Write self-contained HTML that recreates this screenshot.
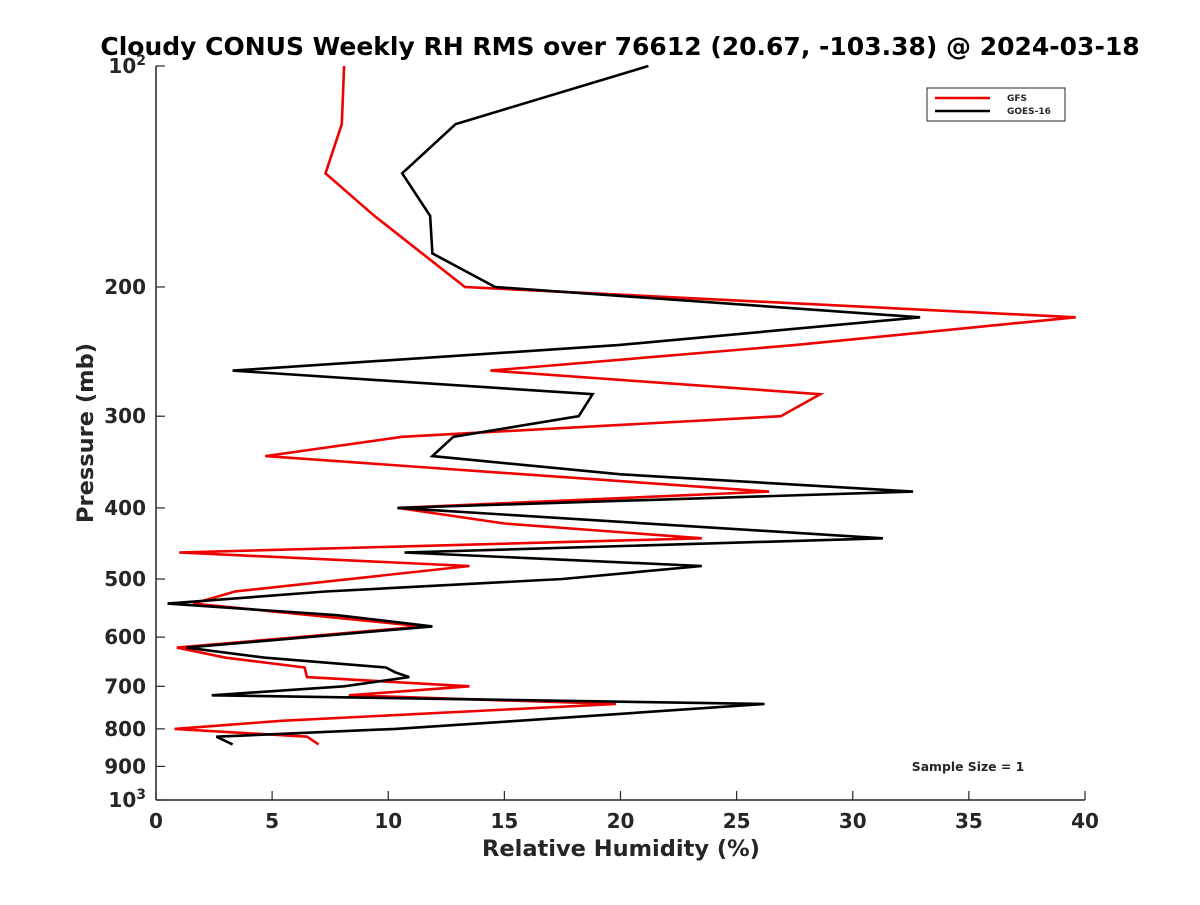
<!DOCTYPE html>
<html><head><meta charset="utf-8"><style>
body{margin:0;background:#fff;}
svg text{font-family:"DejaVu Sans","Liberation Sans",sans-serif;font-weight:bold;fill:#262626;}
</style></head><body>
<svg id="chart" width="1200" height="900">
<rect width="1200" height="900" fill="#fff"/>
<text x="620" y="55" font-size="25" text-anchor="middle" style="fill:#000">Cloudy CONUS Weekly RH RMS over 76612 (20.67, -103.38) @ 2024-03-18</text>
<g id="axes"></g>
<g id="series"></g>
<g>
<rect x="927" y="88" width="138" height="33" fill="#fff" stroke="#262626" stroke-width="1"/>
<line x1="935" y1="98" x2="990" y2="98" stroke="#e00" stroke-width="2.5"/>
<text x="1007" y="101" font-size="9">GFS</text>
<line x1="935" y1="111" x2="990" y2="111" stroke="#000" stroke-width="2.5"/>
<text x="1007" y="114" font-size="9">GOES-16</text>
</g>
<text x="968" y="771" font-size="12.4" text-anchor="middle">Sample Size = 1</text>
<text x="621" y="856" font-size="22.5" text-anchor="middle">Relative Humidity (%)</text>
<text transform="translate(93,433) rotate(-90)" font-size="22.5" text-anchor="middle">Pressure (mb)</text>
</svg>
<script>
const xTicks=[0,5,10,15,20,25,30,35,40];
const yTicks=[200,300,400,500,600,700,800,900];
const gfsP=[100,120,140,160,200,220,240,260,280,300,320,340,380,400,420,440,460,480,520,540,580,620,640,660,680,700,720,740,780,800,820,840];
const gfsRH=[8.1,8.0,7.3,9.4,13.3,39.6,27.5,14.4,28.6,26.9,10.6,4.7,26.4,10.4,15.0,23.5,1.0,13.5,3.4,1.6,11.5,0.9,3.0,6.4,6.5,13.5,8.3,19.8,5.4,0.8,6.5,7.0];
const goesP=[100,120,140,160,180,200,220,240,260,280,300,320,340,360,380,400,440,460,480,500,520,540,560,580,620,640,660,670,680,700,720,740,780,800,820,840];
const goesRH=[21.2,12.9,10.6,11.8,11.9,14.6,32.9,19.9,3.3,18.8,18.2,12.8,11.9,20.0,32.6,10.4,31.3,10.7,23.5,17.5,7.3,0.5,7.8,11.9,1.3,4.7,9.9,10.3,10.9,8.1,2.4,26.2,15.6,10.3,2.6,3.3];
const X0=156,X1=1085,Y0=66,Y1=800;
const xs=v=>X0+(v/40)*(X1-X0);
const ys=p=>Y0+(Math.log10(p)-2)*(Y1-Y0);
const NS='http://www.w3.org/2000/svg';
function mk(tag,attrs,parent){const e=document.createElementNS(NS,tag);for(const k in attrs)e.setAttribute(k,attrs[k]);parent.appendChild(e);return e;}
const ax=document.getElementById('axes');
let l=mk('line',{x1:X0,y1:Y0,x2:X0,y2:Y1,stroke:'#262626','stroke-width':1.5},ax);


l=mk('line',{x1:X0,y1:Y1,x2:X1,y2:Y1,stroke:'#262626','stroke-width':1.5},ax);


xTicks.forEach(v=>{
 const t=mk('line',{x1:xs(v),y1:Y1,x2:xs(v),y2:Y1-9,stroke:'#262626','stroke-width':1.2},ax);
 
 
 const tx=mk('text',{x:xs(v),y:Y1+28,'font-size':20,'text-anchor':'middle'},ax);tx.textContent=v;
 
 
});
const allY=[100].concat(yTicks).concat([1000]);
allY.forEach(p=>{
 const t=mk('line',{x1:X0,y1:ys(p),x2:X0+9,y2:ys(p),stroke:'#262626','stroke-width':1.2},ax);
 
 
 const tx=mk('text',{x:X0-10,y:ys(p)+7,'font-size':20,'text-anchor':'end'},ax);
 if(p===100||p===1000){tx.innerHTML='10<tspan dy="-8" font-size="14">'+(p===100?2:3)+'</tspan>';}
 else tx.textContent=p;
 
 
});
const sg=document.getElementById('series');
function line(P,R,color,name){
 const pts=P.map((p,i)=>xs(R[i]).toFixed(1)+','+ys(p).toFixed(1)).join(' ');
 const pl=mk('polyline',{points:pts,fill:'none',stroke:color,'stroke-width':2.6,'stroke-linejoin':'miter'},sg);
 
 
}
line(gfsP,gfsRH,'#e00','gfs-line');
line(goesP,goesRH,'#000','goes16-line');
</script>
</body></html>
